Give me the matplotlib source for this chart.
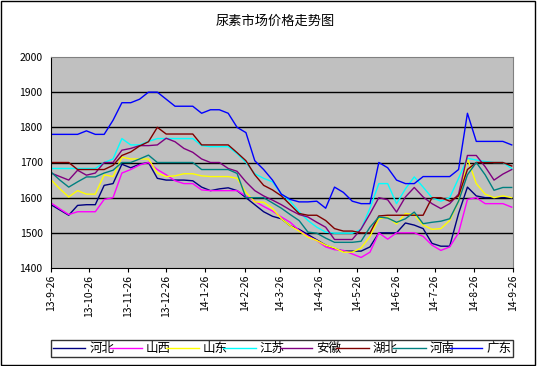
import numpy as np
import pandas as pd
import matplotlib
matplotlib.use("Agg")
import matplotlib.pyplot as plt
import matplotlib.dates as mdates
from matplotlib.patches import Rectangle

plt.rcParams['font.family'] = ['Noto Sans CJK SC', 'DejaVu Sans']

# ==========================================
# DATA (weekly prices, yuan/ton)
# ==========================================
dates = pd.date_range('2013-09-26', periods=53, freq='7D')

hebei = [1580, 1565, 1550, 1578, 1580, 1580, 1635, 1640, 1695, 1685,
         1695, 1700, 1655, 1650, 1650, 1650, 1648, 1630, 1620, 1625,
         1628, 1620, 1600, 1580, 1560, 1547, 1540, 1520, 1510, 1495,
         1480, 1465, 1455, 1448, 1448, 1448, 1460, 1500, 1500, 1500,
         1528, 1522, 1512, 1470, 1462, 1462, 1555, 1630, 1605, 1600,
         1600, 1600, 1600]
shanxi = [1585, 1568, 1552, 1560, 1560, 1560, 1595, 1600, 1670, 1680,
          1693, 1700, 1680, 1665, 1648, 1640, 1640, 1622, 1620, 1620,
          1620, 1620, 1605, 1590, 1575, 1562, 1545, 1530, 1507, 1490,
          1478, 1460, 1452, 1450, 1440, 1430, 1445, 1500, 1482, 1500,
          1500, 1500, 1490, 1465, 1450, 1460, 1500, 1595, 1600, 1583,
          1583, 1583, 1573]
shandong = [1651, 1625, 1602, 1620, 1610, 1610, 1665, 1660, 1715, 1710,
            1710, 1710, 1670, 1660, 1662, 1668, 1668, 1662, 1660, 1660,
            1660, 1655, 1615, 1588, 1587, 1569, 1540, 1520, 1505, 1488,
            1478, 1465, 1457, 1445, 1445, 1457, 1490, 1540, 1545, 1525,
            1555, 1552, 1522, 1510, 1512, 1535, 1590, 1712, 1640, 1610,
            1600, 1605, 1600]
jiangsu = [1683, 1683, 1683, 1683, 1683, 1683, 1700, 1710, 1768, 1750,
           1750, 1760, 1768, 1768, 1768, 1768, 1768, 1748, 1745, 1745,
           1745, 1725, 1700, 1668, 1655, 1645, 1610, 1590, 1560, 1535,
           1516, 1502, 1499, 1499, 1499, 1510, 1570, 1640, 1640, 1583,
           1625, 1659, 1630, 1600, 1590, 1600, 1655, 1712, 1707, 1703,
           1700, 1700, 1683]
anhui = [1670, 1660, 1650, 1678, 1664, 1670, 1700, 1700, 1735, 1740,
         1748, 1748, 1750, 1769, 1759, 1740, 1729, 1710, 1700, 1700,
         1683, 1675, 1645, 1620, 1605, 1593, 1580, 1565, 1552, 1545,
         1530, 1516, 1481, 1481, 1481, 1511, 1554, 1600, 1594, 1559,
         1602, 1629, 1602, 1583, 1569, 1583, 1610, 1720, 1720, 1688,
         1650, 1667, 1680]
hubei = [1700, 1700, 1700, 1680, 1680, 1680, 1680, 1692, 1720, 1730,
         1747, 1759, 1800, 1781, 1781, 1781, 1781, 1750, 1750, 1750,
         1750, 1728, 1705, 1665, 1635, 1622, 1605, 1580, 1555, 1550,
         1550, 1535, 1512, 1505, 1505, 1500, 1500, 1548, 1550, 1550,
         1550, 1550, 1550, 1600, 1600, 1590, 1605, 1680, 1700, 1700,
         1700, 1700, 1690]
henan = [1673, 1650, 1630, 1645, 1659, 1659, 1670, 1678, 1700, 1700,
         1710, 1721, 1700, 1700, 1700, 1700, 1700, 1680, 1680, 1680,
         1680, 1669, 1600, 1600, 1600, 1585, 1570, 1552, 1535, 1502,
         1499, 1485, 1473, 1473, 1473, 1476, 1516, 1545, 1542, 1530,
         1540, 1559, 1526, 1530, 1533, 1540, 1590, 1665, 1700, 1665,
         1621, 1629, 1629]
guangdong = [1780, 1780, 1780, 1780, 1790, 1780, 1780, 1820, 1870, 1870,
             1880, 1900, 1900, 1880, 1860, 1860, 1860, 1840, 1850, 1850,
             1840, 1800, 1785, 1705, 1680, 1650, 1610, 1595, 1588, 1588,
             1590, 1570, 1630, 1615, 1590, 1583, 1583, 1700, 1685, 1650,
             1640, 1640, 1660, 1660, 1660, 1660, 1680, 1840, 1760, 1760,
             1760, 1760, 1750]

series_names = ['河北', '山西', '山东', '江苏', '安徽', '湖北', '河南', '广东']
series_vals = [hebei, shanxi, shandong, jiangsu, anhui, hubei, henan, guangdong]
colors = ['#000080', '#FF00FF', '#FFFF00', '#00FFFF',
          '#800080', '#800000', '#008080', '#0000FF']

tick_dates = ['2013-09-26', '2013-10-26', '2013-11-26', '2013-12-26',
              '2014-01-26', '2014-02-26', '2014-03-26', '2014-04-26',
              '2014-05-26', '2014-06-26', '2014-07-26', '2014-08-26',
              '2014-09-26']
tick_labels = ['13-9-26', '13-10-26', '13-11-26', '13-12-26', '14-1-26',
               '14-2-26', '14-3-26', '14-4-26', '14-5-26', '14-6-26',
               '14-7-26', '14-8-26', '14-9-26']

# ==========================================
# PLOT
# ==========================================
fig = plt.figure(figsize=(5.37, 3.66), dpi=100)
ax = fig.add_axes([51 / 537, 1 - 268 / 366, 462 / 537, 211 / 366])
ax.set_facecolor('#C0C0C0')

for y in [1500, 1600, 1700, 1800, 1900]:
    ax.axhline(y, color='black', lw=1.0, zorder=1)

for name, vals, c in zip(series_names, series_vals, colors):
    ax.plot(dates, vals, color=c, lw=1.0, label=name, zorder=2)

ax.set_ylim(1400, 2000)
ax.set_yticks(np.arange(1400, 2001, 100))
ax.set_xlim(pd.Timestamp('2013-09-26'), pd.Timestamp('2014-09-26'))
ax.set_xticks([pd.Timestamp(d) for d in tick_dates])
ax.set_xticklabels(tick_labels, rotation=90, fontsize=7.5)
ax.tick_params(axis='y', length=0, labelsize=7.5, pad=6)
ax.tick_params(axis='x', length=3, pad=2, direction='out')

for s in ['top', 'right']:
    ax.spines[s].set_color('#808080')
for s in ['left', 'bottom']:
    ax.spines[s].set_color('black')

fig.text(0.512, 0.942, '尿素市场价格走势图', ha='center', va='center', fontsize=9.5)

leg = fig.legend(loc='center', ncol=8, mode='expand',
                 bbox_to_anchor=(51 / 537, 1 - 358 / 366, 462 / 537, 19 / 366),
                 fontsize=9, frameon=True, fancybox=False, borderaxespad=0,
                 handlelength=2.6, handletextpad=0.3, columnspacing=0.6,
                 borderpad=0.15)
leg.get_frame().set_edgecolor('black')
leg.get_frame().set_linewidth(1.0)

fig.patches.append(Rectangle((0.002, 0.003), 0.994, 0.994, transform=fig.transFigure,
                             fill=False, edgecolor='black', lw=1.0))

fig.savefig('out.png', dpi=100)
